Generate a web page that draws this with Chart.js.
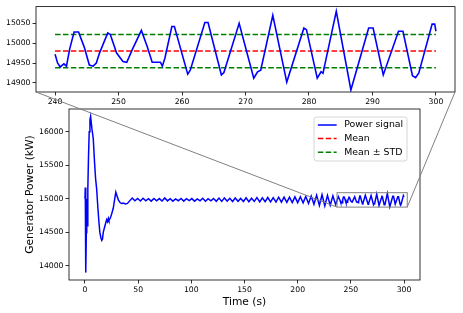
<!DOCTYPE html>
<html>
<head>
<meta charset="utf-8">
<script src="https://cdn.jsdelivr.net/npm/chart.js@4.4.0/dist/chart.umd.min.js"></script>
<style>
    body { margin: 0; background: #fff; }
    #wrap { position: relative; width: 463px; height: 313px; overflow: hidden; }
    canvas { position: absolute; left: 0; }
</style>
</head>
<body>
<div id="wrap">
    <canvas id="mainChart" width="463" height="213" style="top:100px"></canvas>
    <canvas id="zoomChart" width="463" height="110" style="top:0px"></canvas>
    <canvas id="overlay" width="463" height="313" style="top:0px"></canvas>
</div>
<script>
// start-up transient (s, kW)
const startTime = [0, 0.3, 0.6, 0.9, 1.3, 1.7, 2.2, 2.7, 3.3, 4.0, 4.7, 5.3, 6.5, 7.8, 9.0, 10.0, 11.0, 12.0, 13.0, 14.0, 15.0, 15.8, 16.5, 17.2, 18.5, 19.5, 20.4, 21.2, 22.0, 22.6, 23.4, 24.2, 25.2, 26.6, 27.8, 29.0, 30.0, 31.4, 33.0, 34.5, 36.0, 38.0, 40.0, 42.0];
const startPower = [15000, 15170, 14350, 13900, 14500, 15000, 14600, 15150, 15600, 16000, 16180, 16230, 16050, 15900, 15550, 15300, 15150, 14900, 14680, 14500, 14420, 14380, 14400, 14500, 14580, 14640, 14690, 14660, 14710, 14680, 14700, 14730, 14780, 14860, 14980, 15100, 15050, 14985, 14945, 14930, 14936, 14925, 14932, 14970];

// small oscillation, peaks and troughs
const waveTime = [44.4, 47.0, 49.5, 52.1, 54.6, 57.2, 59.7, 62.3, 64.8, 67.4, 69.9, 72.5, 75.0, 77.6, 80.1, 82.7, 85.2, 87.8, 90.3, 92.9,
    95.4, 98.0, 100.5, 103.1, 105.6, 108.2, 110.7, 113.3, 115.8, 118.4, 120.9, 123.5, 126.0, 128.6, 131.1, 133.7, 136.2, 138.8, 141.3, 143.9,
    146.4, 149.0, 151.5, 154.1, 156.6, 159.2, 161.7, 164.3, 166.8, 169.4, 171.9, 174.5, 177.0, 179.6, 182.1, 184.7, 187.2, 189.8, 192.3, 194.9,
    197.4, 200.0, 202.5, 205.1, 207.6, 210.2, 212.7, 215.3, 217.8, 220.4, 222.9, 225.5, 228.0, 230.6, 233.1, 235.7, 238.2];
const wavePower = [15012, 14972, 15005, 14968, 15008, 14970, 15002, 14966, 15006, 14972, 15004, 14968, 15014, 14970, 15002, 14966, 15000, 14972, 15006, 14966,
    15002, 14974, 15004, 14966, 15000, 14970, 15008, 14964, 15002, 14972, 15006, 14964, 15012, 14962, 15014, 14966, 15008, 14960, 15012, 14964,
    15006, 14960, 15016, 14958, 15010, 14962, 15018, 14955, 15016, 14958, 15020, 14954, 15018, 14952, 15024, 14950, 15026, 14948, 15026, 14946,
    15030, 14944, 15032, 14940, 15036, 14932, 15042, 14920, 15055, 14902, 15062, 14896, 15052, 14905, 15046, 14914, 15034];

// zoomed window 240-300 s
const zoomTime = [240.0, 240.4, 240.8, 241.4, 241.8, 242.3, 243.0, 243.7, 244.6, 245.4, 246.0, 246.5, 247.0, 248.3, 248.7, 249.7, 250.7, 251.3, 252.2, 253.6,
    254.5, 255.3, 256.6, 256.9, 257.3, 258.4, 258.8, 260.9, 261.3, 263.6, 264.1, 266.2, 266.6, 269.0, 271.3, 271.9, 272.4, 274.3, 276.5, 279.2,
    279.6, 281.3, 281.9, 282.2, 284.3, 286.6, 289.4, 290.1, 291.7, 294.1, 294.8, 296.3, 296.8, 297.3, 299.4, 299.8, 300.0];
const zoomPower = [14972, 14950, 14940, 14948, 14942, 14985, 15028, 15028, 14990, 14945, 14942, 14950, 14975, 15026, 15022, 14975, 14954, 14952, 14985, 15032,
    14992, 14952, 14952, 14942, 14962, 15042, 15042, 14922, 14932, 15052, 15052, 14920, 14926, 15050, 14912, 14928, 14932, 15070, 14902, 15038,
    15034, 14912, 14928, 14924, 15080, 14882, 15038, 15038, 14920, 15030, 15030, 14918, 14913, 14925, 15048, 15048, 15030];

const meanPower = 14980;
const stdPower = 42;

const mainXTicks = [0, 50, 100, 150, 200, 250, 300];
const mainYTicks = [14000, 14500, 15000, 15500, 16000];
const zoomXTicks = [240, 250, 260, 270, 280, 290, 300];
const zoomYTicks = [14900, 14950, 15000, 15050];
const legendLabels = ['Power signal', 'Mean', 'Mean \u00b1 STD'];
const legendColors = ['#0000ff', '#ff0000', '#008000'];

const mainRange = { xMin: -15, xMax: 315, yMin: 13790, yMax: 16340 };
const zoomRange = { xMin: 237, xMax: 303, yMin: 14877, yMax: 15092 };

Chart.defaults.font.family = "'DejaVu Sans', sans-serif";
Chart.defaults.color = '#000';

function toPoints(times, values) {
    return times.map((t, i) => ({ x: t, y: values[i] }));
}

const signal = toPoints(startTime.concat(waveTime, zoomTime), startPower.concat(wavePower, zoomPower));
const zoomSignal = toPoints(zoomTime, zoomPower);

function setTicks(list) {
    return function (scale) {
        scale.ticks = list.map(v => ({ value: v }));
    };
}

function axis(min, max, ticks, size, titleText, titleOpts) {
    return {
        type: 'linear',
        min: min,
        max: max,
        afterBuildTicks: setTicks(ticks),
        afterFit: size,
        grid: { drawOnChartArea: false, drawTicks: true, tickLength: 3.5, color: '#000', tickWidth: 0.8 },
        border: { display: false },
        ticks: { font: { size: 7.7 }, padding: 2, maxRotation: 0, autoSkip: false, callback: v => String(v) },
        title: titleText ? Object.assign({ display: true, text: titleText, font: { size: 10.7 } }, titleOpts) : { display: false }
    };
}

const frame = {
    id: 'frame',
    afterDraw(chart) {
        const { ctx, chartArea: a } = chart;
        ctx.save();
        ctx.strokeStyle = '#000';
        ctx.lineWidth = 0.8;
        ctx.strokeRect(a.left, a.top, a.right - a.left, a.bottom - a.top);
        ctx.restore();
    }
};

const legendBox = {
    id: 'legendBox',
    afterDraw(chart) {
        const { ctx, chartArea: a } = chart;
        ctx.save();
        ctx.font = '9.4px "DejaVu Sans"';
        const textW = Math.max(...legendLabels.map(l => ctx.measureText(l).width));
        const pad = 3.8, handle = 18.8, gap = 7.5, rowH = 13.6;
        const w = pad + handle + gap + textW + pad;
        const right = a.right - 13;
        const left = right - w;
        const top = a.top + 8;
        ctx.fillStyle = 'rgba(255,255,255,0.8)';
        ctx.strokeStyle = '#cccccc';
        ctx.lineWidth = 0.8;
        ctx.beginPath();
        ctx.roundRect(left, top, w, 44, 2.5);
        ctx.fill();
        ctx.stroke();
        legendLabels.forEach((label, i) => {
            const y = top + 8 + i * rowH;
            ctx.strokeStyle = legendColors[i];
            ctx.lineWidth = 1.5;
            ctx.setLineDash(i === 0 ? [] : [5.5, 2.4]);
            ctx.beginPath();
            ctx.moveTo(left + pad, y);
            ctx.lineTo(left + pad + handle, y);
            ctx.stroke();
            ctx.setLineDash([]);
            ctx.fillStyle = '#000';
            ctx.textBaseline = 'middle';
            ctx.fillText(label, left + pad + handle + gap, y);
        });
        ctx.restore();
    }
};

const mainChart = new Chart(document.getElementById('mainChart'), {
    type: 'line',
    data: {
        datasets: [{
            label: legendLabels[0],
            data: signal,
            borderColor: legendColors[0],
            borderWidth: 1.5,
            pointRadius: 0,
            tension: 0
        }]
    },
    options: {
        responsive: false,
        animation: false,
        layout: { padding: { left: 0, top: 9, right: 43, bottom: 0 } },
        plugins: { legend: { display: false }, tooltip: { enabled: false } },
        scales: {
            x: axis(mainRange.xMin, mainRange.xMax, mainXTicks, s => { s.height = 33; }, 'Time (s)', { padding: { top: 0, bottom: 4 } }),
            y: axis(mainRange.yMin, mainRange.yMax, mainYTicks, s => { s.width = 69; }, 'Generator Power (kW)', { padding: { top: 24, bottom: 0 } })
        }
    },
    plugins: [frame, legendBox]
});

function flatLine(value) {
    return [{ x: zoomXTicks[0], y: value }, { x: zoomXTicks[zoomXTicks.length - 1], y: value }];
}

const zoomChart = new Chart(document.getElementById('zoomChart'), {
    type: 'line',
    data: {
        datasets: [
            { data: zoomSignal, borderColor: legendColors[0], borderWidth: 1.6, pointRadius: 0, tension: 0 },
            { data: flatLine(meanPower), borderColor: legendColors[1], borderWidth: 1.5, borderDash: [5.5, 2.4], pointRadius: 0 },
            { data: flatLine(meanPower + stdPower), borderColor: legendColors[2], borderWidth: 1.5, borderDash: [5.5, 2.4], pointRadius: 0 },
            { data: flatLine(meanPower - stdPower), borderColor: legendColors[2], borderWidth: 1.5, borderDash: [5.5, 2.4], pointRadius: 0 }
        ]
    },
    options: {
        responsive: false,
        animation: false,
        layout: { padding: { left: 0, top: 5, right: 8, bottom: 0 } },
        plugins: { legend: { display: false }, tooltip: { enabled: false } },
        scales: {
            x: axis(zoomRange.xMin, zoomRange.xMax, zoomXTicks, s => { s.height = 18; }),
            y: axis(zoomRange.yMin, zoomRange.yMax, zoomYTicks, s => { s.width = 36; })
        }
    },
    plugins: [frame]
});

// zoom box on main axes and connector lines to the inset
const ov = document.getElementById('overlay').getContext('2d');
const mainTop = 100;
const ia = zoomChart.chartArea;
const rx1 = mainChart.scales.x.getPixelForValue(zoomRange.xMin);
const rx2 = mainChart.scales.x.getPixelForValue(zoomRange.xMax);
const ry1 = mainChart.scales.y.getPixelForValue(zoomRange.yMax) + mainTop;
const ry2 = mainChart.scales.y.getPixelForValue(zoomRange.yMin) + mainTop;
ov.strokeStyle = '#808080';
ov.lineWidth = 1;
ov.strokeRect(rx1, ry1, rx2 - rx1, ry2 - ry1);
ov.beginPath();
ov.moveTo(ia.left, ia.bottom);
ov.lineTo(rx1, ry2);
ov.moveTo(ia.right, ia.bottom);
ov.lineTo(rx2, ry2);
ov.stroke();
</script>
</body>
</html>
